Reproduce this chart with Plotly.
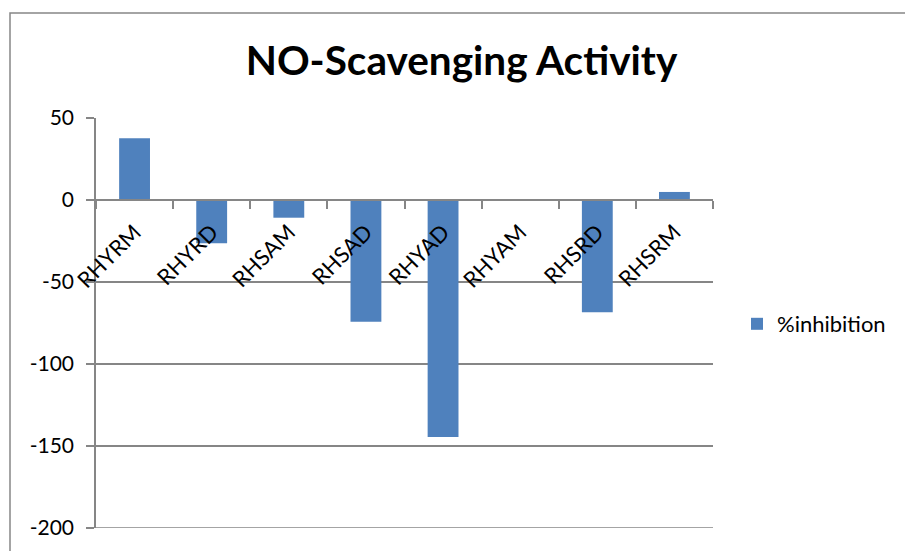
import plotly.graph_objects as go

# NO-scavenging results per extract
categories = ["RHYRM", "RHYRD", "RHSAM", "RHSAD", "RHYAD", "RHYAM", "RHSRD", "RHSRM"]
inhibition = [37.7, -26.4, -10.8, -74.3, -144.5, 0.5, -68.4, 4.9]
series_name = "%inhibition"
y_ticks = [50, 0, -50, -100, -150, -200]

BAR_BLUE = "#4F81BD"
GRID = "#868686"
FONT = "Lato, 'Open Sans', sans-serif"

W, H = 905, 551
ML, MR, MT, MB = 96, 192, 118, 23
plot_w = W - ML - MR
plot_h = H - MT - MB

fig = go.Figure(
    go.Bar(
        x=categories,
        y=inhibition,
        name=series_name,
        marker=dict(color=BAR_BLUE, line=dict(width=0)),
        showlegend=True,
    )
)

y_min, y_max = min(y_ticks), max(y_ticks)
zero_pos = (0 - y_min) / (y_max - y_min)

# outer chart frame (extends past the right and bottom edges)
frame_x0 = (10 - ML) / plot_w
frame_y1 = (H - MB - 13) / plot_h

fig.update_layout(
    width=W,
    height=H,
    margin=dict(l=ML, r=MR, t=MT, b=MB),
    paper_bgcolor="white",
    plot_bgcolor="white",
    bargap=0.6,
    font=dict(family=FONT, color="black", size=21),
    title=dict(
        text="<b>NO-Scavenging Activity</b>",
        font=dict(family=FONT, size=40.5, color="black"),
        x=461.5 / W,
        xanchor="center",
        xref="container",
        y=1 - 61 / H,
        yanchor="middle",
        yref="container",
    ),
    xaxis=dict(
        type="category",
        anchor="free",
        position=zero_pos,
        showline=True,
        linecolor=GRID,
        linewidth=1.5,
        ticks="outside",
        tickson="boundaries",
        ticklen=8,
        tickwidth=1.5,
        tickcolor=GRID,
        tickangle=-45,
        ticklabelstandoff=10,
        tickfont=dict(family=FONT, size=22, color="black"),
        showgrid=False,
        automargin=False,
    ),
    yaxis=dict(
        range=[y_min, y_max],
        tickvals=y_ticks,
        ticktext=[str(v) for v in y_ticks],
        showline=True,
        linecolor=GRID,
        linewidth=1.5,
        ticks="outside",
        ticklen=8,
        tickwidth=1.5,
        tickcolor=GRID,
        ticklabelstandoff=8,
        tickfont=dict(family=FONT, size=21, color="black"),
        showgrid=True,
        gridcolor=GRID,
        gridwidth=1.5,
        zeroline=False,
        automargin=False,
    ),
    legend=dict(
        x=(737 - ML) / plot_w,
        y=(H - MB - 324) / plot_h,
        xanchor="left",
        yanchor="middle",
        font=dict(family=FONT, size=22, color="black"),
        bgcolor="rgba(0,0,0,0)",
    ),
    shapes=[
        # outer chart frame
        dict(
            type="rect",
            xref="paper",
            yref="paper",
            x0=frame_x0,
            x1=2,
            y0=-1,
            y1=frame_y1,
            line=dict(color=GRID, width=1.5),
            fillcolor="rgba(0,0,0,0)",
            layer="below",
        ),
        # gridline along the bottom edge of the plot area
        dict(
            type="line",
            xref="paper",
            yref="y",
            x0=0,
            x1=1,
            y0=y_min,
            y1=y_min,
            line=dict(color=GRID, width=1.5),
            layer="below",
        ),
    ],
)

fig.write_html("out.html")
